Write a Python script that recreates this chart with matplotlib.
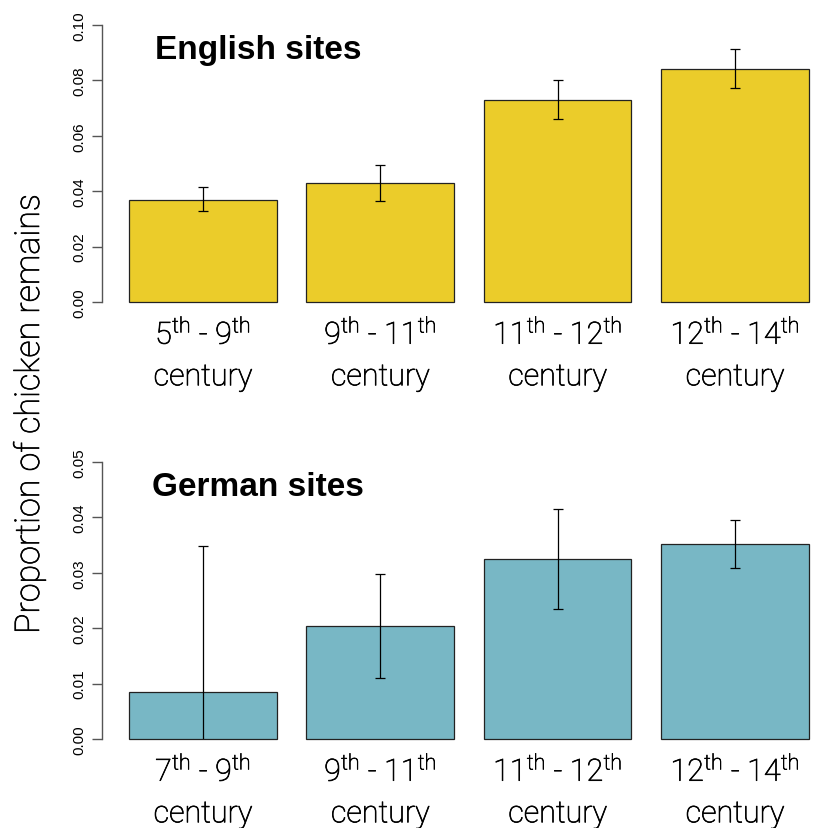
import matplotlib.pyplot as plt
import matplotlib.patheffects as pe
import numpy as np

plt.rcParams['mathtext.fontset'] = 'custom'
plt.rcParams['mathtext.rm'] = 'Roboto:weight=light'
plt.rcParams['mathtext.it'] = 'Roboto:weight=light'
plt.rcParams['mathtext.bf'] = 'Roboto:weight=light'

# data
english_labels = [r"5$^{\rm th}$ - 9$^{\rm th}$", r"9$^{\rm th}$ - 11$^{\rm th}$",
                  r"11$^{\rm th}$ - 12$^{\rm th}$", r"12$^{\rm th}$ - 14$^{\rm th}$"]
english_vals = [0.0368, 0.0430, 0.0729, 0.0841]
english_lo = [0.0330, 0.0365, 0.0660, 0.0773]
english_hi = [0.0415, 0.0495, 0.0801, 0.0913]

german_labels = [r"7$^{\rm th}$ - 9$^{\rm th}$", r"9$^{\rm th}$ - 11$^{\rm th}$",
                 r"11$^{\rm th}$ - 12$^{\rm th}$", r"12$^{\rm th}$ - 14$^{\rm th}$"]
german_vals = [0.0085, 0.0204, 0.0325, 0.0352]
german_lo = [-0.0178, 0.0110, 0.0235, 0.0309]
german_hi = [0.0348, 0.0298, 0.0415, 0.0395]

W, H = 813, 829
fig = plt.figure(figsize=(W / 100, H / 100), dpi=100)

# bar centres like R's barplot (width 1, space 0.2)
xpos = 0.7 + 1.2 * np.arange(4)
thick = [pe.withStroke(linewidth=0.5, foreground='black')]


def panel(rect, vals, lo, hi, labels, ymax, color, title, tx, ty):
    ax = fig.add_axes(rect)
    ax.bar(xpos, vals, width=1.0, color=color, edgecolor='#222222',
           linewidth=0.9, clip_on=False)
    vals = np.array(vals)
    ax.errorbar(xpos, vals, yerr=[vals - np.array(lo), np.array(hi) - vals],
                fmt='none', ecolor='black', elinewidth=0.9, capsize=3.6,
                capthick=0.9)
    ax.set_xlim(0.016, 4.984)
    ax.set_ylim(0, ymax)
    for s in ['top', 'right', 'bottom']:
        ax.spines[s].set_visible(False)
    ax.spines['left'].set_color('#555555')
    ax.spines['left'].set_linewidth(1.0)
    ticks = np.linspace(0, ymax, 6)
    ax.set_yticks(ticks)
    ax.set_yticklabels(['%.2f' % t for t in ticks], rotation=90, va='center',
                       fontsize=11, family='Liberation Sans')
    ax.tick_params(axis='y', length=7, width=1.0, color='#555555', pad=4)
    ax.set_xticks([])
    for x, lab in zip(xpos, labels):
        ax.text(x, -0.115, lab, transform=ax.get_xaxis_transform(),
                ha='center', va='center', fontsize=22, family='Roboto',
                weight='light', path_effects=thick)
        ax.text(x, -0.27, 'century', transform=ax.get_xaxis_transform(),
                ha='center', va='center', fontsize=22, family='Roboto',
                weight='light', path_effects=thick)
    ax.text(tx, ty, title, transform=ax.transAxes, ha='left', va='center',
            fontsize=24, family='Liberation Sans', weight='bold')
    return ax


left = 101.8 / W
width = (836 - 101.8) / W
panel([left, 1 - 303 / H, width, 277 / H], english_vals, english_lo, english_hi,
      english_labels, 0.10, '#EBCC2A', 'English sites', 0.072, 0.913)
panel([left, 1 - 740 / H, width, 277 / H], german_vals, german_lo, german_hi,
      german_labels, 0.05, '#78B7C5', 'German sites', 0.069, 0.91)

fig.text(30 / W, 1 - 415 / H, 'Proportion of chicken remains', rotation=90,
         ha='center', va='center', fontsize=24.5, family='Roboto',
         weight='light', path_effects=thick)

fig.savefig('out.png', dpi=100)
